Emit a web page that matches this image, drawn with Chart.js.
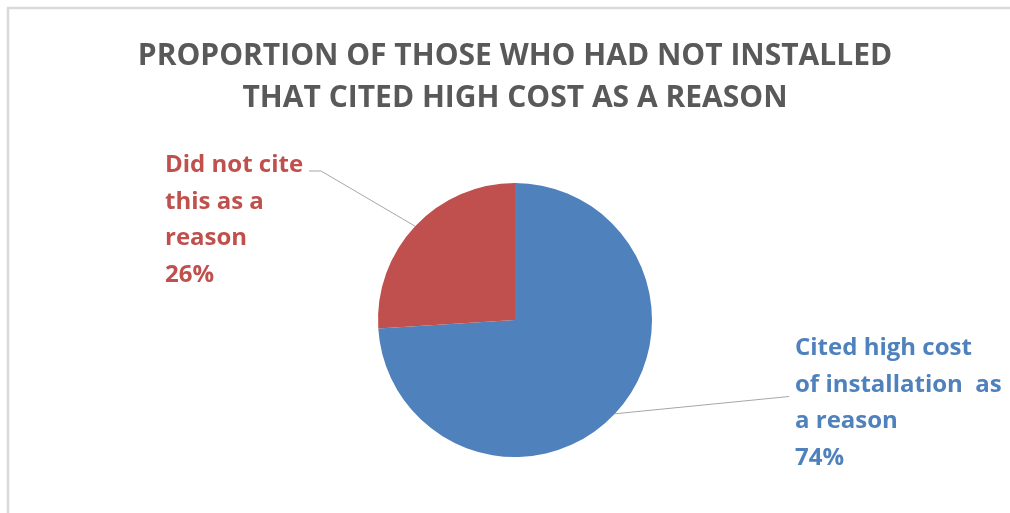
<!DOCTYPE html>
<html>
<head>
<meta charset="utf-8">
<script src="https://cdn.jsdelivr.net/npm/chart.js@4/dist/chart.umd.min.js"></script>
<style>
  html, body { margin: 0; padding: 0; background: #ffffff; }
  #wrap { position: relative; width: 1010px; height: 513px; }
</style>
</head>
<body>
<div id="wrap"><canvas id="costChart" width="1010" height="513"></canvas></div>
<script>
// Survey answers: share of non-installers citing high cost
const titleLines = ['PROPORTION OF THOSE WHO HAD NOT INSTALLED', 'THAT CITED HIGH COST AS A REASON'];
const categories = ['Cited high cost of installation  as a reason', 'Did not cite this as a reason'];
const shares = [74, 26];
const sliceColors = ['#4F81BD', '#C0504D'];
// wrapped label lines for each slice (percent is appended from shares)
const labelLines = [
    ['Cited high cost', 'of installation  as', 'a reason'],
    ['Did not cite', 'this as a', 'reason']
];

const FONT = "'Open Sans', Lato, 'Liberation Sans', sans-serif";

// Light frame behind the plot
const framePlugin = {
    id: 'frame',
    beforeDraw(chart) {
        const ctx = chart.ctx;
        ctx.save();
        ctx.strokeStyle = '#d9d9d9';
        ctx.lineWidth = 2.5;
        ctx.strokeRect(8, 8, chart.width + 40, chart.height + 40);
        ctx.restore();
    }
};

// Outside labels with leader lines, anchored on each arc's mid-angle
const outsideLabels = {
    id: 'outsideLabels',
    afterDatasetsDraw(chart, args, opts) {
        const ctx = chart.ctx;
        const meta = chart.getDatasetMeta(0);
        ctx.save();
        ctx.font = `bold ${opts.size}px ${FONT}`;
        ctx.textBaseline = 'alphabetic';
        meta.data.forEach((arc, i) => {
            const place = opts.places[i];
            const mid = (arc.startAngle + arc.endAngle) / 2;
            const ex = arc.x + Math.cos(mid) * arc.outerRadius;
            const ey = arc.y + Math.sin(mid) * arc.outerRadius;
            const lx = arc.x + place.dx;
            const ly = arc.y + place.dy;
            const lines = labelLines[i].concat([shares[i] + '%']);

            // leader line
            const lineRow = place.lineRow;
            const rowY = ly + lineRow * opts.lineHeight + 2;
            ctx.strokeStyle = '#a6a6a6';
            ctx.lineWidth = 1;
            ctx.beginPath();
            if (place.side === 'left') {
                const tw = ctx.measureText(lines[lineRow]).width;
                ctx.moveTo(lx + tw + 6, rowY - 3);
                ctx.lineTo(lx + tw + 18, rowY - 3);
            } else {
                ctx.moveTo(lx - 6, rowY + 3);
            }
            ctx.lineTo(ex, ey);
            ctx.stroke();

            ctx.fillStyle = sliceColors[i];
            lines.forEach((t, k) => ctx.fillText(t, lx, ly + k * opts.lineHeight));
        });
        ctx.restore();
    }
};

new Chart(document.getElementById('costChart'), {
    type: 'pie',
    data: {
        labels: categories,
        datasets: [{
            data: shares,
            backgroundColor: sliceColors,
            borderWidth: 0
        }]
    },
    options: {
        responsive: false,
        animation: false,
        layout: { padding: { left: 20, right: 0, top: 0, bottom: 56 } },
        plugins: {
            legend: { display: false },
            tooltip: { enabled: false },
            title: {
                display: true,
                text: titleLines,
                color: '#595959',
                font: { family: FONT, size: 30, weight: 'bold', lineHeight: '42px' },
                padding: { top: 35, bottom: 64 }
            },
            outsideLabels: {
                size: 24,
                lineHeight: 36.5,
                places: [
                    { dx: 280, dy: 35, side: 'right', lineRow: 1 },
                    { dx: -350, dy: -148, side: 'left', lineRow: 0 }
                ]
            }
        }
    },
    plugins: [framePlugin, outsideLabels]
});
</script>
</body>
</html>
